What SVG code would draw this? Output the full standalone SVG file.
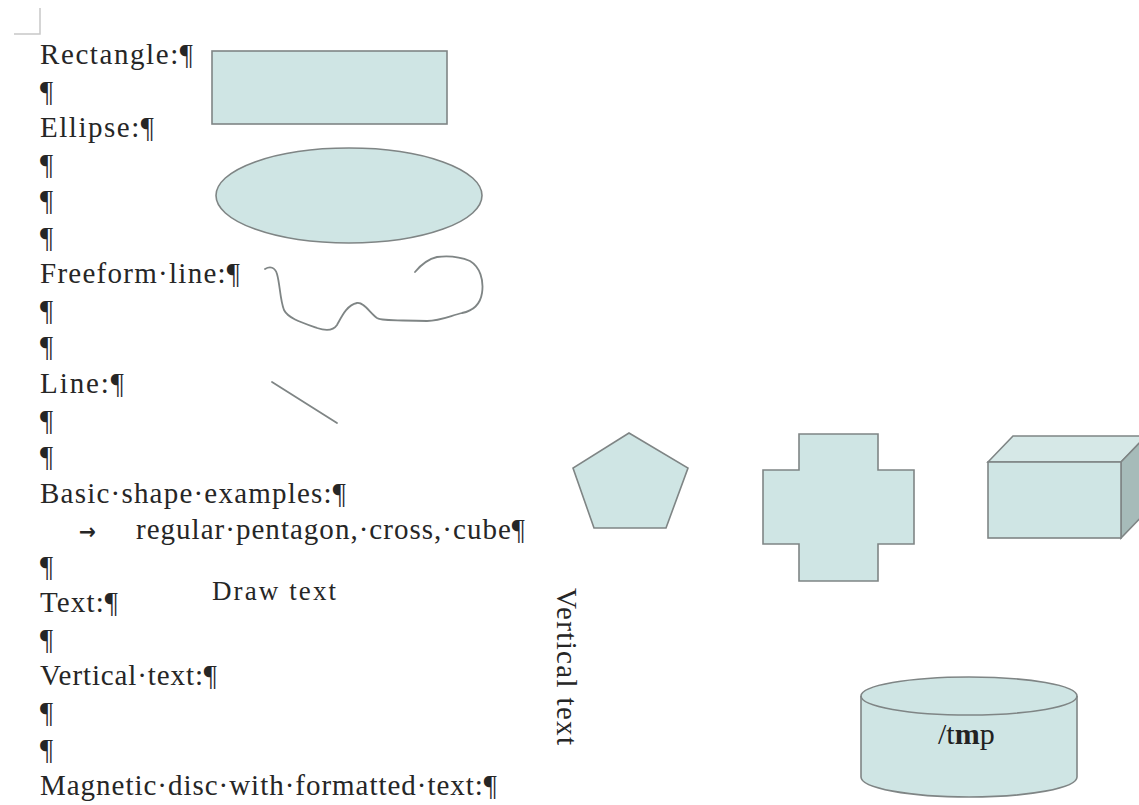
<svg xmlns="http://www.w3.org/2000/svg" width="1139" height="805" viewBox="0 0 1139 805">
<style>
.t{font-family:"Liberation Serif","DejaVu Serif",serif;font-size:29px;fill:#262626}
.s{fill:#cfe5e4;stroke:#7f8585;stroke-width:1.6}
.ln{fill:none;stroke:#7f8585;stroke-width:1.8;stroke-linecap:round;stroke-linejoin:round}
</style>
<rect width="1139" height="805" fill="#fff"/>
<g id="corner" stroke="#c8c8c8" stroke-width="1.5" fill="none"><path d="M14 34H40V8"/></g>
<g id="labels">
<text class="t" x="40" y="64" textLength="153" lengthAdjust="spacing">Rectangle:¶</text>
<text class="t" x="40" y="100.6">¶</text>
<text class="t" x="40" y="137.1" textLength="114" lengthAdjust="spacing">Ellipse:¶</text>
<text class="t" x="40" y="173.7">¶</text>
<text class="t" x="40" y="210.2">¶</text>
<text class="t" x="40" y="246.8">¶</text>
<text class="t" x="40" y="283.3" textLength="200" lengthAdjust="spacing">Freeform·line:¶</text>
<text class="t" x="40" y="319.9">¶</text>
<text class="t" x="40" y="356.4">¶</text>
<text class="t" x="40" y="393" textLength="84" lengthAdjust="spacing">Line:¶</text>
<text class="t" x="40" y="429.5">¶</text>
<text class="t" x="40" y="466.1">¶</text>
<text class="t" x="40" y="502.6" textLength="306" lengthAdjust="spacing">Basic·shape·examples:¶</text>
<text x="79" y="539" style="font-family:'DejaVu Sans',sans-serif;font-size:22px;font-weight:bold;fill:#262626" textLength="17" lengthAdjust="spacingAndGlyphs">→</text>
<text class="t" x="136" y="539.2" textLength="389" lengthAdjust="spacing">regular·pentagon,·cross,·cube¶</text>
<text class="t" x="40" y="575.7">¶</text>
<text class="t" x="40" y="612.3" textLength="78" lengthAdjust="spacing">Text:¶</text>
<text class="t" x="40" y="648.8">¶</text>
<text class="t" x="40" y="685.4" textLength="177" lengthAdjust="spacing">Vertical·text:¶</text>
<text class="t" x="40" y="721.9">¶</text>
<text class="t" x="40" y="758.5">¶</text>
<text class="t" x="40" y="795" textLength="457" lengthAdjust="spacing">Magnetic·disc·with·formatted·text:¶</text>
</g>
<g id="rectangle"><rect class="s" x="212" y="51" width="235" height="73"/></g>
<g id="ellipse"><ellipse class="s" cx="349" cy="195.5" rx="133" ry="47.5"/></g>
<g id="freeform"><path class="ln" d="M265 269 C270 266 275 267 277 274 C280 284 280 300 284 310 C288 318 300 322 317 328 C326 331 333 331 337 325 C342 316 347 305 357 303 C364 302 370 313 377 318 C382 321 393 320 427 321 C440 321 450 316 462 313 C472 311 480 306 482 293 C484 280 480 267 470 261 C458 256 445 256 437 257 C428 259 420 266 415 272"/></g>
<g id="line"><path class="ln" d="M272 382L337 423"/></g>
<g id="pentagon"><polygon class="s" points="629,433 688,468 666,528 594,528 573,468"/></g>
<g id="cross"><polygon class="s" points="799,434 878,434 878,470 914,470 914,544 878,544 878,581 799,581 799,544 763,544 763,470 799,470"/></g>
<g id="cube">
<polygon class="s" points="988,462 1013,436 1146,436 1121,462" style="fill:#d6e8e7"/>
<polygon class="s" points="1121,462 1146,436 1146,512 1121,538" style="fill:#a6bbb9"/>
<rect class="s" x="988" y="462" width="133" height="76"/>
</g>
<g id="draw-text"><text class="t" x="212" y="600" style="font-size:27px" textLength="124" lengthAdjust="spacing">Draw text</text></g>
<g id="vertical-text"><text class="t" transform="translate(557,588) rotate(90)" x="0" y="0" style="font-size:29px" textLength="157" lengthAdjust="spacing">Vertical text</text></g>
<g id="disc">
<path class="s" d="M861 696 V777 A108 20 0 0 0 1077 777 V696 A108 19 0 0 0 861 696 Z"/>
<path class="s" d="M861 696 A108 19 0 0 0 1077 696" style="fill:none"/>
<text x="938" y="744" style="font-family:'Liberation Serif',serif;font-size:30px;fill:#222">/t<tspan font-weight="bold">m</tspan>p</text>
</g>
<g id="connectors"/>
</svg>
